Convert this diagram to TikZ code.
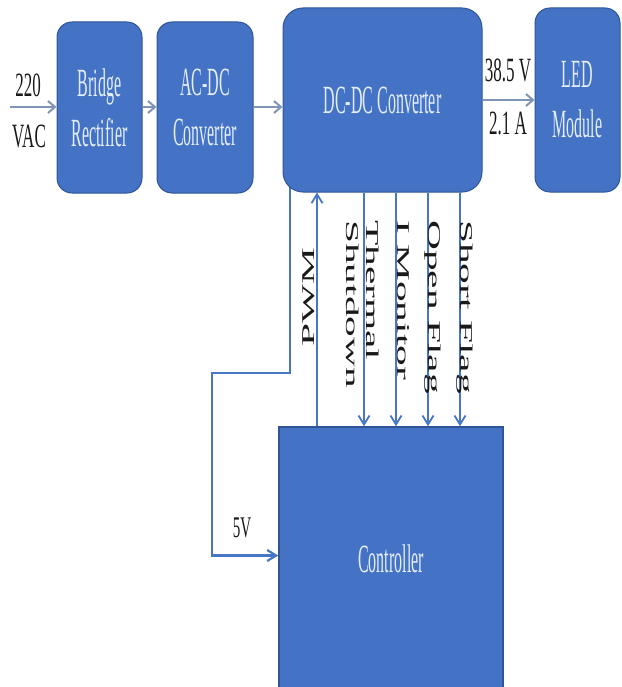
\documentclass[tikz,border=0pt]{standalone}
\usepackage{fontspec}
\setmainfont{Liberation Serif}
\newfontfamily\boxfont[FakeStretch=0.4]{Liberation Serif}
\newfontfamily\tagfont[FakeStretch=0.5]{Liberation Serif}
\newfontfamily\sigfont[FakeStretch=2.3]{Liberation Serif}
\usetikzlibrary{arrows.meta}
\usetikzlibrary{backgrounds}

\definecolor{blockblue}{RGB}{68,114,196}
\definecolor{blockedge}{RGB}{47,85,151}
\definecolor{blocktext}{RGB}{228,238,250}
\definecolor{flowgrey}{RGB}{128,148,182}
\definecolor{sigblue}{RGB}{70,118,198}

\tikzset{
  block/.style={draw=blockedge, line width=1pt, fill=blockblue, rounded corners=15pt,
    text=blocktext, align=center, inner sep=0pt, font=\boxfont\fontsize{40}{50}\selectfont},
  flow/.style={-{Straight Barb[length=7pt,width=12pt]}, flowgrey, line width=2pt},
  sig/.style={-{Straight Barb[length=9pt,width=11pt]}, sigblue, line width=1.8pt},
  tag/.style={inner sep=0pt, text=black!90, font=\tagfont\fontsize{34}{40}\selectfont},
  siglabel/.style={inner sep=0pt, text=black!90, align=left, font=\sigfont\fontsize{18}{20}\selectfont}
}

\begin{document}
\begin{tikzpicture}[x=1pt, y=-1pt]
\useasboundingbox (0,0) rectangle (621,687);

% --- POWER CHAIN (TOP) ---
\node[block, minimum width=85pt, minimum height=171pt] (bridge) at (99.5,107.5) {Bridge\\Rectifier};
\node[block, minimum width=96pt, minimum height=171pt] (acdc) at (205,107.5) {AC-DC\\Converter};
\node[block, rounded corners=20pt, minimum width=199pt, minimum height=184pt] (dcdc) at (382.5,100) {DC-DC Converter};
\node[block, minimum width=85pt, minimum height=184pt] (led) at (577.5,100) {LED\\Module};

\coordinate (mains) at (10,107);
\draw[flow] (mains) -- (mains -| bridge.west);
\draw[flow] (bridge.east |- mains) -- (acdc.west |- mains);
\draw[flow] (acdc.east |- mains) -- (dcdc.west |- mains);
\draw[flow] (dcdc.east) -- (led.west);

\node[tag, anchor=base] (vin) at (28,97) {220};
\node[tag, anchor=base] (vac) at (29,148) {VAC};
\node[tag, anchor=base] (vout) at (508,82) {38.5 V};
\node[tag, anchor=base] (iout) at (508,135) {2.1 A};

% --- CONTROLLER (BOTTOM) ---
\node[block, rounded corners=0pt, line width=1.5pt, minimum width=224pt, minimum height=263pt] (ctrl) at (391,558.5) {Controller};

% signal lines between converter and controller
\foreach \px/\nm in {317/pwm,364/therm,396/imon,428/oflag,460/sflag}
    \coordinate (\nm) at (\px,300);
\draw[sig] (ctrl.north -| pwm) -- (dcdc.south -| pwm);
\foreach \nm in {therm,imon,oflag,sflag}
    \draw[sig] (dcdc.south -| \nm) -- (ctrl.north -| \nm);

\node[siglabel, rotate=90, anchor=south west] (pwmlbl) at (315,347) {PWM};
\node[siglabel, rotate=-90, anchor=north west] (thermlbl) at (379,220) {Thermal\\Shutdown};
\node[siglabel, rotate=-90, anchor=north west] (imonlbl) at (410,220) {I Monitor};
\node[siglabel, rotate=-90, anchor=north west] (oflaglbl) at (441,220) {Open Flag};
\node[siglabel, rotate=-90, anchor=north west] (sflaglbl) at (473,220) {Short Flag};

% 5V supply loop
\coordinate (feed) at (290,300);
\coordinate (turn) at (212,373);
\begin{scope}[on background layer]
    \draw[sig, line width=2.2pt] ([yshift=8pt]dcdc.south -| feed) |- (turn) |- ([yshift=3pt]ctrl.west);
\end{scope}
\node[tag, anchor=base, font=\tagfont\fontsize{30}{36}\selectfont] (fivev) at (242,537) {5V};
\end{tikzpicture}
\end{document}
